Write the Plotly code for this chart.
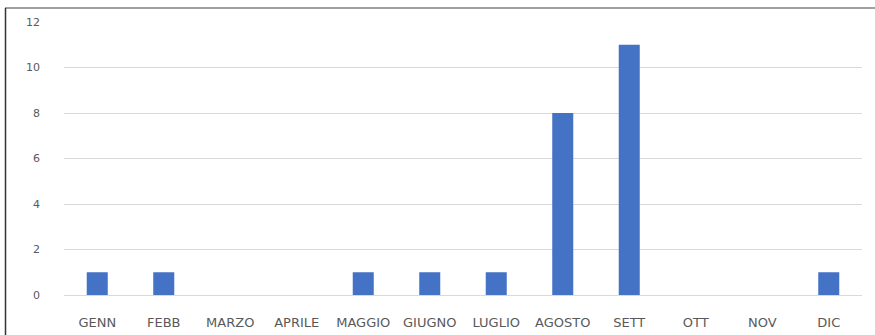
import plotly.graph_objects as go

# Monthly counts
months = ["GENN", "FEBB", "MARZO", "APRILE", "MAGGIO", "GIUGNO",
          "LUGLIO", "AGOSTO", "SETT", "OTT", "NOV", "DIC"]
counts = [1, 1, 0, 0, 1, 1, 1, 8, 11, 0, 0, 1]
y_ticks = [0, 2, 4, 6, 8, 10, 12]

BAR_COLOR = "#4472C4"
TEXT_COLOR = "#595959"
GRID_COLOR = "#d9d9d9"

fig = go.Figure(
    go.Bar(x=months, y=counts, marker=dict(color=BAR_COLOR, line=dict(width=0)))
)

W, H = 875, 335
ml, mr, mt, mb = 64, 13, 22, 40
pw, ph = W - ml - mr, H - mt - mb


def px_to_paper_x(px):
    return (px - ml) / pw


def px_to_paper_y(py):
    return (H - mb - py) / ph


fig.update_layout(
    width=W,
    height=H,
    margin=dict(l=ml, r=mr, t=mt, b=mb),
    paper_bgcolor="white",
    plot_bgcolor="white",
    bargap=0.684,
    showlegend=False,
    font=dict(family="DejaVu Sans", size=12, color=TEXT_COLOR),
    xaxis=dict(
        type="category",
        automargin=False,
        showgrid=False,
        showline=True,
        linecolor=GRID_COLOR,
        linewidth=1,
        ticks="",
        tickfont=dict(size=13, color=TEXT_COLOR),
        ticklabelstandoff=15,
        fixedrange=True,
    ),
    yaxis=dict(
        range=[0, 12],
        automargin=False,
        tickvals=y_ticks,
        showgrid=True,
        gridcolor=GRID_COLOR,
        gridwidth=1,
        zeroline=False,
        showline=False,
        ticks="",
        tickfont=dict(size=11, color=TEXT_COLOR),
        ticklabelstandoff=23,
        fixedrange=True,
    ),
    shapes=[
        # frame: top and left edges
        dict(type="line", xref="paper", yref="paper",
             x0=px_to_paper_x(5), x1=px_to_paper_x(W + 5),
             y0=px_to_paper_y(8), y1=px_to_paper_y(8),
             line=dict(color="#7f7f7f", width=1.5)),
        dict(type="line", xref="paper", yref="paper",
             x0=px_to_paper_x(5.5), x1=px_to_paper_x(5.5),
             y0=px_to_paper_y(8), y1=px_to_paper_y(H + 5),
             line=dict(color="#333333", width=1.5)),
    ],
)

fig.write_html("out.html")
